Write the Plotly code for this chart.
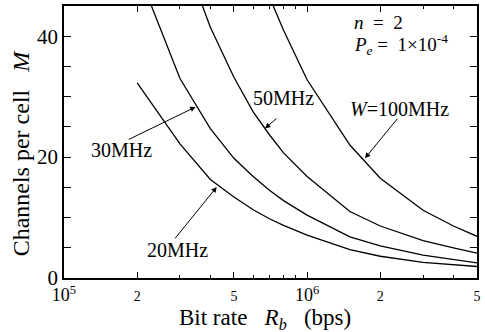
import numpy as np
import plotly.graph_objects as go

# ---- data ----
rb_20 = [2e5, 3e5, 4e5, 5e5, 6e5, 7e5, 8e5, 1e6, 1.5e6, 2e6, 3e6, 4e6, 5e6]
m_20 = [32.3, 22.2, 16.3, 13.4, 11.3, 9.8, 8.7, 7.1, 4.7, 3.6, 2.6, 2.2, 1.9]

rb_30 = [2e5, 3e5, 4e5, 5e5, 6e5, 7e5, 8e5, 1e6, 1.5e6, 2e6, 3e6, 4e6, 5e6]
m_30 = [51.0, 33.0, 24.7, 19.8, 16.8, 14.5, 12.8, 10.4, 6.8, 5.3, 3.8, 3.1, 2.5]

rb_50 = [3e5, 4e5, 5e5, 6e5, 7e5, 8e5, 1e6, 1.5e6, 2e6, 3e6, 4e6, 5e6]
m_50 = [55.0, 41.5, 33.2, 27.5, 23.7, 20.7, 16.8, 11.0, 8.6, 6.2, 5.0, 4.1]

rb_100 = [6e5, 7e5, 8e5, 1e6, 1.5e6, 2e6, 3e6, 4e6, 5e6]
m_100 = [54.0, 46.5, 41.0, 32.8, 22.0, 16.5, 11.2, 8.6, 6.9]

x_tickvals = [1e5, 2e5, 5e5, 1e6, 2e6, 5e6]
x_minorvals = [3e5, 4e5, 6e5, 7e5, 8e5, 9e5, 3e6, 4e6]
y_tickvals = [0, 5, 10, 15, 20, 25, 30, 35, 40, 45]
y_ticktext = ["0", "", "", "", "20", "", "", "", "40", ""]

# labels: text, text position (Rb, M), arrow tail (Rb, M), arrow head (Rb, M)
labels = [
    ("30MHz", (1.72e5, 21.2), (1.82e5, 22.8), (3.48e5, 28.3)),
    ("20MHz", (2.92e5, 4.7), (2.83e5, 6.3), (4.25e5, 15.05)),
    ("50MHz", (7.96e5, 29.8), (7.59e5, 26.6), (6.71e5, 24.75)),
    ("<i>W</i>=100MHz", (2.40e6, 28.0), (2.38e6, 26.6), (1.73e6, 19.8)),
]

FONT = "Liberation Serif"

fig = go.Figure()
for rb, m in [(rb_20, m_20), (rb_30, m_30), (rb_50, m_50), (rb_100, m_100)]:
    fig.add_trace(go.Scatter(x=rb, y=m, mode="lines",
                             line=dict(color="black", width=1.3),
                             showlegend=False, hoverinfo="skip"))

small = "<span style='font-size:14px'>{}</span>"
x_ticktext = ["10<sup>5</sup>", small.format("2"), small.format("5"),
              "10<sup>6</sup>", small.format("2"), small.format("5")]

fig.update_layout(
    width=485, height=332,
    margin=dict(l=64, r=4, t=5, b=54),
    paper_bgcolor="white", plot_bgcolor="white",
    font=dict(family=FONT, color="black", size=20),
    xaxis=dict(type="log", range=[5, np.log10(5e6)],
               tickvals=x_tickvals, ticktext=x_ticktext,
               ticks="inside", ticklen=6, tickwidth=1.2, tickcolor="black",
               minor=dict(tickvals=x_minorvals, ticks="inside", ticklen=3,
                          tickwidth=1, tickcolor="black"),
               showline=True, linecolor="black", linewidth=1.5, mirror="ticks",
               showgrid=False, zeroline=False,
               tickfont=dict(size=18, family=FONT)),
    yaxis=dict(range=[0, 45], tickvals=y_tickvals, ticktext=y_ticktext,
               ticks="inside", ticklen=7, tickwidth=1.2, tickcolor="black",
               showline=True, linecolor="black", linewidth=1.5, mirror="ticks",
               showgrid=False, zeroline=False,
               tickfont=dict(size=21, family=FONT)),
)

ann = []
for text, (tx, ty), (ax_, ay_), (hx, hy) in labels:
    ann.append(dict(x=np.log10(tx), y=ty, xref="x", yref="y", text=text,
                    showarrow=False, font=dict(size=20, family=FONT)))
    ann.append(dict(x=np.log10(hx), y=hy, ax=np.log10(ax_), ay=ay_,
                    xref="x", yref="y", axref="x", ayref="y", text="",
                    showarrow=True, arrowhead=2, arrowsize=1.1, arrowwidth=1,
                    arrowcolor="black", standoff=0, startstandoff=0))

nb = "\u00a0"
ann.append(dict(xref="paper", yref="paper", x=(355 - 64) / 417, y=(278 - 22) / 273,
                xanchor="left", yanchor="middle", showarrow=False,
                text="<i>n</i>" + nb * 2 + "=" + nb * 2 + "2",
                font=dict(size=19, family=FONT)))
ann.append(dict(xref="paper", yref="paper", x=(355 - 64) / 417, y=(278 - 44) / 273,
                xanchor="left", yanchor="middle", showarrow=False,
                text="<i>P<sub>e</sub></i>" + nb * 1 + "=" + nb * 2 + "1×10<sup>-4</sup>",
                font=dict(size=19, family=FONT)))
# axis titles
ann.append(dict(xref="paper", yref="paper", x=(266.5 - 64) / 417, y=(278 - 319) / 273,
                xanchor="center", yanchor="middle", showarrow=False,
                text="Bit rate" + nb * 3 + "<i>R<sub>b</sub></i>" + nb * 3 + "(bps)",
                font=dict(size=23, family=FONT)))
ann.append(dict(xref="paper", yref="paper", x=(21 - 64) / 417, y=(278 - 152.5) / 273,
                xanchor="center", yanchor="middle", showarrow=False, textangle=-90,
                text="Channels per cell" + nb * 3 + "<i>M</i>",
                font=dict(size=24, family=FONT)))
fig.update_layout(annotations=ann)

fig.write_html("out.html", config={"displayModeBar": False},
               post_script="document.body.style.margin='0';")
